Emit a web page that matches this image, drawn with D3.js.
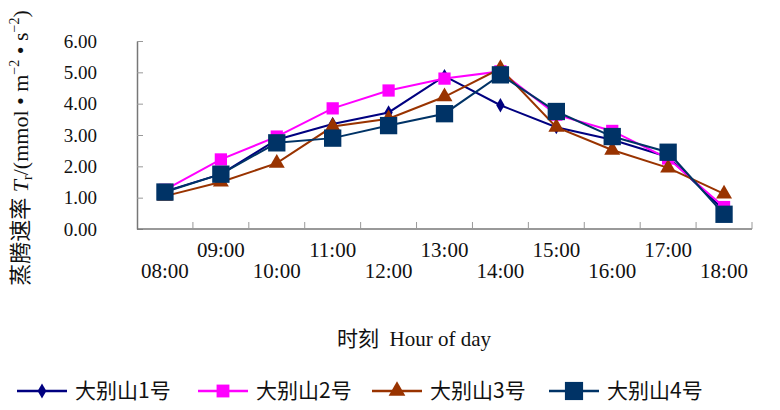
<!DOCTYPE html>
<html>
<head>
<meta charset="utf-8">
<script src="https://cdn.jsdelivr.net/npm/d3@7"></script>
<style>
  body { margin: 0; background: #fff; }
  text { font-family: "Liberation Serif", "DejaVu Serif", serif; fill: #111; }
  .cjk { font-family: "Noto Sans CJK SC", sans-serif; }
</style>
</head>
<body>
<div id="chart"></div>
<script>
const hours = ['08:00', '09:00', '10:00', '11:00', '12:00', '13:00', '14:00', '15:00', '16:00', '17:00', '18:00']
const yTicks = [0, 1, 2, 3, 4, 5, 6]
const names = ['大别山1号', '大别山2号', '大别山3号', '大别山4号']
const s1 = [1.2, 1.75, 2.85, 3.35, 3.72, 4.88, 3.95, 3.25, 2.85, 2.3, 0.6]
const s2 = [1.25, 2.22, 2.95, 3.85, 4.42, 4.8, 5.03, 3.65, 3.13, 2.25, 0.7]
const s3 = [1.05, 1.5, 2.1, 3.27, 3.52, 4.22, 5.12, 3.25, 2.52, 1.95, 1.12]
const s4 = [1.18, 1.75, 2.75, 2.9, 3.3, 3.68, 4.92, 3.75, 2.95, 2.45, 0.47]

const width = 780, height = 410
const svg = d3.select('#chart').append('svg')
  .attr('width', width)
  .attr('height', height)

const x = d3.scaleBand().domain(hours).range([137, 752]).padding(0)
const y = d3.scaleLinear().domain([0, 6]).range([229, 41])
const cx = d => x(d) + x.bandwidth() / 2

const series = [
  { name: names[0], values: s1, color: '#000080', marker: 'diamond', size: 60, lw: 2 },
  { name: names[1], values: s2, color: '#ff00ff', marker: 'square', size: 150, lw: 2 },
  { name: names[2], values: s3, color: '#993300', marker: 'triangle', size: 110, lw: 2 },
  { name: names[3], values: s4, color: '#003366', marker: 'square', size: 300, lw: 2 }
]
const symbolOf = m => m === 'diamond' ? d3.symbolDiamond : (m === 'triangle' ? d3.symbolTriangle : d3.symbolSquare)

// y axis
const yAxis = d3.axisLeft(y).tickValues(yTicks).tickFormat(d3.format('.2f'))
  .tickSizeInner(-6).tickSizeOuter(0).tickPadding(40)
const gy = svg.append('g').attr('transform', 'translate(137,0)').call(yAxis)
gy.select('.domain').attr('stroke', '#777').attr('stroke-width', 1.5)
gy.selectAll('.tick line').attr('stroke', '#999')
gy.selectAll('.tick text').attr('font-size', 19)
  .style('font-family', '"Liberation Serif", serif').attr('fill', '#111')

// x axis
svg.append('line')
  .attr('x1', 137).attr('x2', 752)
  .attr('y1', y(0)).attr('y2', y(0))
  .attr('stroke', '#777').attr('stroke-width', 1.5)
const bounds = hours.map(h => x(h)).concat([x.range()[1]]).slice(1)
svg.selectAll('.xtick').data(bounds).join('line')
  .attr('class', 'xtick')
  .attr('x1', d => d).attr('x2', d => d)
  .attr('y1', y(0)).attr('y2', y(0) - 7)
  .attr('stroke', '#999')
svg.selectAll('.xlab').data(hours).join('text')
  .attr('class', 'xlab')
  .attr('x', d => cx(d))
  .attr('y', (d, i) => i % 2 === 0 ? 278 : 257)
  .attr('text-anchor', 'middle')
  .attr('font-size', 21)
  .text(d => d)

// lines and markers
const line = d3.line().x((d, i) => cx(hours[i])).y(d => y(d))
series.forEach(s => {
  svg.append('path')
    .datum(s.values)
    .attr('d', line)
    .attr('fill', 'none')
    .attr('stroke', s.color)
    .attr('stroke-width', s.lw)
  svg.selectAll(null).data(s.values).join('path')
    .attr('transform', (d, i) => `translate(${cx(hours[i])},${y(d)})`)
    .attr('d', d3.symbol().type(symbolOf(s.marker)).size(s.size))
    .attr('fill', s.color)
})

// axis titles
svg.append('text')
  .attr('transform', 'translate(28,148) rotate(-90)')
  .attr('text-anchor', 'middle')
  .attr('font-size', 22)
  .call(t => {
    t.append('tspan').attr('class', 'cjk').text('蒸腾速率')
    t.append('tspan').attr('font-style', 'italic').text(' T')
    t.append('tspan').attr('font-size', 14).attr('dy', 4).text('r')
    t.append('tspan').attr('dy', -4).text('/(mmol • m')
    t.append('tspan').attr('font-size', 14).attr('dy', -9).text('−2')
    t.append('tspan').attr('dy', 9).text(' • s')
    t.append('tspan').attr('font-size', 14).attr('dy', -9).text('−2')
    t.append('tspan').attr('dy', 9).text(')')
  })

svg.append('text')
  .attr('x', 414).attr('y', 346)
  .attr('text-anchor', 'middle')
  .attr('font-size', 21)
  .call(t => {
    t.append('tspan').attr('class', 'cjk').text('时刻')
    t.append('tspan').text('  Hour of day').attr('xml:space', 'preserve')
  })

// legend
const legendX = [17, 198, 372, 549]
const lg = svg.selectAll('.leg').data(series).join('g')
  .attr('class', 'leg')
  .attr('transform', (d, i) => `translate(${legendX[i]},391)`)
lg.append('line')
  .attr('x1', 0).attr('x2', 50)
  .attr('stroke', d => d.color).attr('stroke-width', 2.5)
lg.append('path')
  .attr('transform', 'translate(25,0)')
  .attr('d', d => d3.symbol().type(symbolOf(d.marker)).size(d.size * 1.1)())
  .attr('fill', d => d.color)
lg.append('text')
  .attr('class', 'cjk')
  .attr('x', 58).attr('y', 7)
  .attr('font-size', 21)
  .attr('fill', '#333')
  .text(d => d.name)
</script>
</body>
</html>
